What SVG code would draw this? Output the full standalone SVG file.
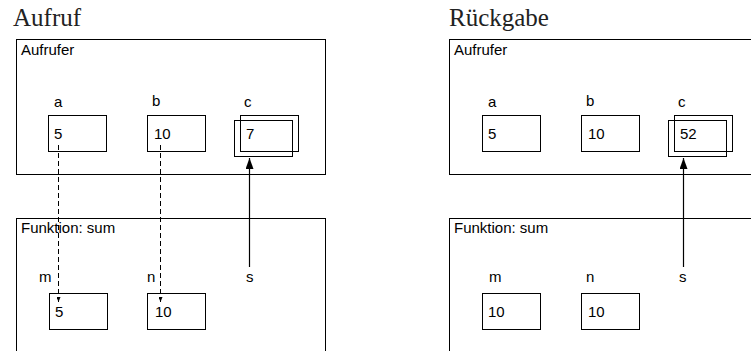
<svg xmlns="http://www.w3.org/2000/svg" width="751" height="351" viewBox="0 0 751 351">
<style>
.title{font-family:"Liberation Serif",serif;font-size:25px;fill:#222}
.t{font-family:"Liberation Sans",Arial,sans-serif;font-size:15px;fill:#000}
.frame{fill:none;stroke:#000;stroke-width:1}
.box{fill:#fff;stroke:#000;stroke-width:1}
.boxo{fill:none;stroke:#000;stroke-width:1}
.dash{fill:none;stroke:#000;stroke-width:1;stroke-dasharray:5,3}
.solid{fill:none;stroke:#000;stroke-width:1.2}
</style>
<defs>
<marker id="big" markerUnits="userSpaceOnUse" markerWidth="11" markerHeight="8" refX="11" refY="4" orient="auto">
<path d="M0,0 L11,4 L0,8 z" fill="#000"/>
</marker>
<marker id="small" markerUnits="userSpaceOnUse" markerWidth="5" markerHeight="4" refX="5" refY="2" orient="auto">
<path d="M0,0 L5,2 L0,4 z" fill="#000"/>
</marker>
</defs>
<rect width="751" height="351" fill="#fff"/>

<!-- Left panel: Aufruf -->
<g id="left">
<text class="title" x="13" y="26">Aufruf</text>
<g id="L-aufrufer">
<rect class="frame" x="16.5" y="39.5" width="309" height="135"/>
<text class="t" x="21" y="55">Aufrufer</text>
</g>
<g id="L-a">
<text class="t" x="54" y="107">a</text>
<rect class="box" x="48.5" y="115.5" width="58" height="36"/>
<text class="t" x="54" y="139">5</text>
</g>
<g id="L-b">
<text class="t" x="152" y="106">b</text>
<rect class="box" x="147.5" y="115.5" width="58" height="36"/>
<text class="t" x="154" y="139">10</text>
</g>
<g id="L-c">
<text class="t" x="244" y="107">c</text>
<rect class="box" x="240.5" y="115.5" width="58" height="36"/>
<rect class="boxo" x="234.5" y="120.5" width="58" height="36"/>
<text class="t" x="246" y="139">7</text>
</g>
<g id="L-funktion">
<rect class="frame" x="16.5" y="218.5" width="309" height="200"/>
<text class="t" x="21" y="233">Funktion: sum</text>
</g>
<g id="L-m">
<text class="t" x="39" y="282">m</text>
<rect class="box" x="49.5" y="293.5" width="58" height="36"/>
<text class="t" x="55" y="317">5</text>
</g>
<g id="L-n">
<text class="t" x="147" y="282">n</text>
<rect class="box" x="147.5" y="293.5" width="58" height="36"/>
<text class="t" x="155" y="317">10</text>
</g>
<g id="L-s">
<text class="t" x="246" y="282">s</text>
</g>
</g>

<!-- Right panel: Rückgabe -->
<g id="right">
<text class="title" x="449" y="26">Rückgabe</text>
<g id="R-aufrufer">
<rect class="frame" x="449.5" y="39.5" width="309" height="135"/>
<text class="t" x="454" y="55">Aufrufer</text>
</g>
<g id="R-a">
<text class="t" x="488" y="107">a</text>
<rect class="box" x="482.5" y="115.5" width="58" height="36"/>
<text class="t" x="488" y="139">5</text>
</g>
<g id="R-b">
<text class="t" x="586" y="106">b</text>
<rect class="box" x="581.5" y="115.5" width="58" height="36"/>
<text class="t" x="588" y="139">10</text>
</g>
<g id="R-c">
<text class="t" x="678" y="107">c</text>
<rect class="box" x="674.5" y="115.5" width="58" height="36"/>
<rect class="boxo" x="668.5" y="120.5" width="58" height="36"/>
<text class="t" x="680" y="139">52</text>
</g>
<g id="R-funktion">
<rect class="frame" x="449.5" y="218.5" width="309" height="200"/>
<text class="t" x="454" y="233">Funktion: sum</text>
</g>
<g id="R-m">
<text class="t" x="489" y="282">m</text>
<rect class="box" x="482.5" y="293.5" width="58" height="36"/>
<text class="t" x="488" y="317">10</text>
</g>
<g id="R-n">
<text class="t" x="586" y="282">n</text>
<rect class="box" x="581.5" y="293.5" width="58" height="36"/>
<text class="t" x="588" y="317">10</text>
</g>
<g id="R-s">
<text class="t" x="679" y="282">s</text>
</g>
</g>

<!-- Connectors -->
<g id="connectors">
<line class="dash" x1="58.5" y1="145" x2="58.5" y2="302" marker-end="url(#small)"/>
<line class="dash" x1="160.5" y1="145" x2="160.5" y2="302" marker-end="url(#small)"/>
<line class="solid" x1="249.5" y1="267" x2="249.5" y2="158" marker-end="url(#big)"/>
<line class="solid" x1="683.5" y1="267" x2="683.5" y2="158" marker-end="url(#big)"/>
</g>
</svg>
